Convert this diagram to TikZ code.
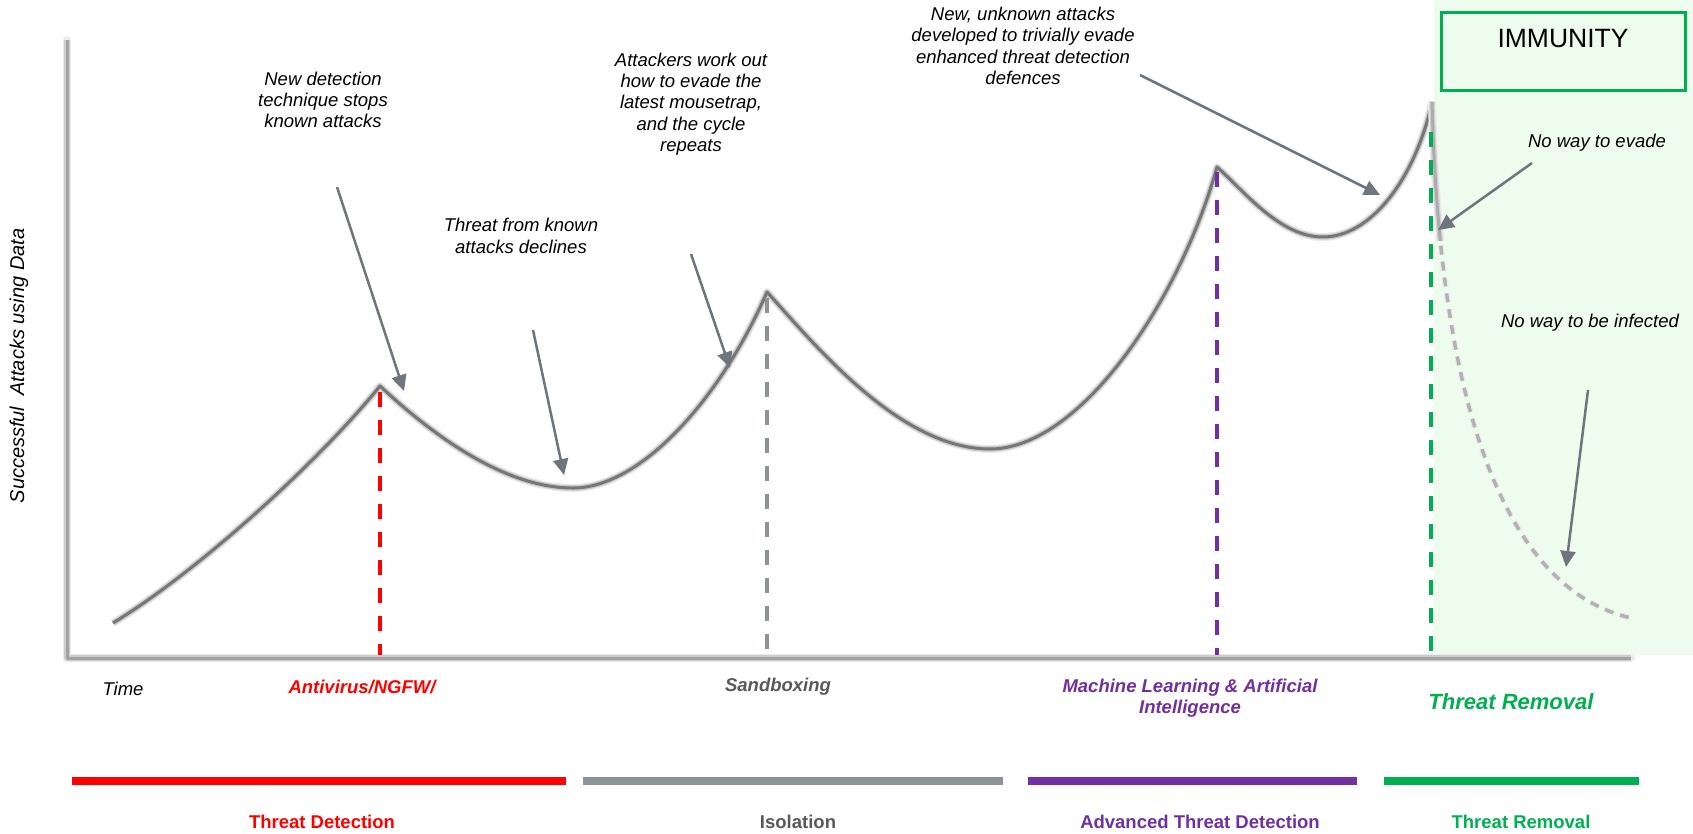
\documentclass[tikz,border=0pt]{standalone}
\usepackage{fontspec}
\setmainfont{Liberation Sans}
\usetikzlibrary{arrows.meta}

\definecolor{tdred}{RGB}{255,0,0}
\definecolor{isogray}{RGB}{140,148,151}
\definecolor{isotext}{RGB}{89,89,89}
\definecolor{atdpurple}{RGB}{112,48,160}
\definecolor{trgreen}{RGB}{0,176,80}
\definecolor{immbg}{RGB}{237,252,237}
\definecolor{arrgray}{RGB}{110,117,124}
\definecolor{curvegray}{RGB}{118,118,118}

\begin{document}
\begin{tikzpicture}[x=1pt,y=-1pt,
  note/.style={font=\fontsize{18.5}{21.3}\selectfont\itshape, align=center, inner sep=0pt},
  techlabel/.style={font=\fontsize{18.5}{21.3}\selectfont\bfseries\itshape, align=center, inner sep=0pt},
  barlabel/.style={font=\fontsize{18.5}{21.3}\selectfont\bfseries, inner sep=0pt},
  pointer/.style={draw=arrgray, line width=2.5pt, -{Triangle[length=16pt,width=15pt]}},
  phasebar/.style={line width=8pt},
  marker/.style={line width=4pt, dash pattern=on 15pt off 13pt},
  halo/.style={line width=8pt, draw=gray!16, line join=round},
  soft/.style={line width=5.5pt, draw=gray!42, line join=round},
  core/.style={line width=3pt, draw=curvegray, line join=round},
]

\useasboundingbox (0,0) rectangle (1693,833);
\fill[white] (0,0) rectangle (1693,833);

% immunity zone
\fill[immbg] (1434,0) rectangle (1693,655);
\node[draw=trgreen, line width=2.5pt, fill=immbg, minimum width=244pt,
      minimum height=78pt, anchor=north west, inner sep=0pt] (immbox) at (1440,11) {};
\node[font=\fontsize{26.5}{31}\selectfont, inner sep=0pt] (immtext) at (1563,39) {IMMUNITY};

% key points of the curve
\coordinate (start) at (113,623);
\coordinate (p1) at (380,386);
\coordinate (t1) at (573,488);
\coordinate (p2) at (767,292);
\coordinate (t2) at (990,449);
\coordinate (p3) at (1217,167);
\coordinate (t3) at (1323,237);
\coordinate (p4) at (1432,102);
\coordinate (fade) at (1631,618);

% axes
\coordinate (ytop) at (67,40);
\coordinate (origin) at (67,658);
\coordinate (xend) at (1631,658);
\draw[halo, line cap=round] (ytop) -- (origin) -- (xend);
\draw[soft, draw=gray!40] (ytop) -- (origin) -- (xend);
\draw[core, draw=gray!72] (ytop) -- (origin) -- (xend);

% attack curve
\def\attackcurve{(start) .. controls (200,570) and (320,460) .. (p1)
  .. controls (425,428) and (500,488) .. (t1)
  .. controls (640,488) and (720,400) .. (p2)
  .. controls (815,345) and (900,449) .. (t2)
  .. controls (1080,449) and (1180,300) .. (p3)
  .. controls (1245,192) and (1280,237) .. (t3)
  .. controls (1370,237) and (1415,180) .. (p4)}
\def\decaycurve{(p4) .. controls (1440,420) and (1510,590) .. (fade)}

\draw[halo] \attackcurve;
\draw[soft] \attackcurve;
\draw[core] \attackcurve;

% decay after removal: dashed
\draw[line width=6pt, draw=gray!15, dash pattern=on 9pt off 7pt] \decaycurve;
\draw[line width=3.5pt, draw=gray!60, dash pattern=on 9pt off 7pt] \decaycurve;
\begin{scope}
  \clip (1400,95) rectangle (1480,240);
  \fill[immbg] (1434,95) rectangle (1480,240);
  \draw[halo] \decaycurve;
  \draw[soft, draw=gray!35] \decaycurve;
  \draw[core, draw=gray!65] \decaycurve;
\end{scope}

% technology markers
\draw[marker, draw=tdred] ([yshift=-6pt]p1) -- (p1 |- 0,655);
\draw[marker, draw=isogray] ([yshift=-6pt]p2) -- (p2 |- 0,655);
\draw[marker, draw=atdpurple] ([yshift=-5pt]p3) -- (p3 |- 0,655);
\draw[marker, draw=trgreen] (1431,132) -- (1431,652);

% annotations
\node[note] (n1) at (323,100) {New detection\\technique stops\\known attacks};
\node[note] (n2) at (521,236) {Threat from known\\attacks declines};
\node[note] (n3) at (691,104) {Attackers work out\\how to evade the\\latest mousetrap,\\and the cycle\\repeats};
\node[note] (n4) at (1023,46) {New, unknown attacks\\developed to trivially evade\\enhanced threat detection\\defences};
\node[note] (n5) at (1597,143) {No way to evade};
\node[note] (n6) at (1590,323) {No way to be infected};

\coordinate (a1s) at (337,187);  \coordinate (a1e) at (404,391);
\coordinate (a2s) at (533,330);  \coordinate (a2e) at (564,475);
\coordinate (a3s) at (691,254);  \coordinate (a3e) at (730,368);
\coordinate (a4s) at (1140,75);  \coordinate (a4e) at (1380,195);
\coordinate (a5s) at (1532,163); \coordinate (a5e) at (1438,230);
\coordinate (a6s) at (1588,390); \coordinate (a6e) at (1566,567);
\draw[pointer] (a1s) -- (a1e);
\draw[pointer] (a2s) -- (a2e);
\draw[pointer] (a3s) -- (a3e);
\draw[pointer] (a4s) -- (a4e);
\draw[pointer] (a5s) -- (a5e);
\draw[pointer] (a6s) -- (a6e);

% axis labels
\node[rotate=90, font=\fontsize{20}{24}\selectfont\itshape, inner sep=0pt] (ylab) at (19,366) {Successful\ \ Attacks using Data};
\node[note] (time) at (123,689) {Time};

% technology labels
\node[techlabel, text=tdred] (av) at (362,687) {Antivirus/NGFW/};
\node[techlabel, text=isotext] (sb) at (778,687) {Sandboxing};
\node[techlabel, text=atdpurple] (ml) at (1190,698) {Machine Learning \& Artificial\\Intelligence};
\node[techlabel, text=trgreen, font=\fontsize{22}{26}\selectfont\bfseries\itshape] (tr) at (1511,702) {Threat Removal};

% phase bars
\draw[phasebar, draw=tdred] (72,781) -- (566,781);
\draw[phasebar, draw=isogray] (583,781) -- (1003,781);
\draw[phasebar, draw=atdpurple] (1028,781) -- (1357,781);
\draw[phasebar, draw=trgreen] (1384,781) -- (1639,781);

\node[barlabel, text=tdred] (ph1) at (322,822) {Threat Detection};
\node[barlabel, text=isotext] (ph2) at (798,822) {Isolation};
\node[barlabel, text=atdpurple] (ph3) at (1200,822) {Advanced Threat Detection};
\node[barlabel, text=trgreen] (ph4) at (1521,822) {Threat Removal};

\end{tikzpicture}
\end{document}
